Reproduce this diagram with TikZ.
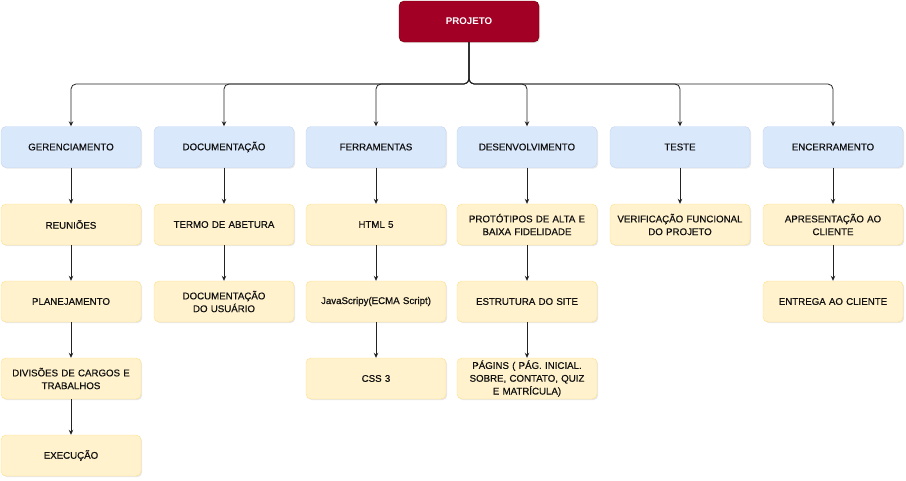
\documentclass[tikz,border=0pt]{standalone}
\usepackage{fontspec}
\setmainfont{Liberation Sans}
\newfontfamily\semibold[FakeBold=0.6]{Liberation Sans}
\usetikzlibrary{arrows.meta,shadows}
\definecolor{rootfill}{HTML}{A20025}
\definecolor{rootline}{HTML}{6F0000}
\definecolor{bluefill}{HTML}{DAE8FC}
\definecolor{blueline}{HTML}{C3D5F2}
\definecolor{yelfill}{HTML}{FFF2CC}
\definecolor{yelline}{HTML}{FFE08A}
\definecolor{edgecol}{HTML}{222222}
\definecolor{txt}{HTML}{111111}
\tikzset{
  box/.style={rounded corners=5pt, minimum width=140pt, minimum height=41pt,
    text width=136pt, align=center, inner sep=0pt, text=txt, font=\semibold\fontsize{9.7}{12.8}\selectfont,
    drop shadow={shadow xshift=1.2pt, shadow yshift=-1.2pt, opacity=0.18}},
  rootbox/.style={box, fill=rootfill, draw=rootline, text=white, font=\fontsize{9.7}{12.8}\selectfont\bfseries},
  catbox/.style={box, fill=bluefill, draw=blueline},
  taskbox/.style={box, fill=yelfill, draw=yelline},
  link/.style={draw=edgecol, line width=0.8pt, -{Stealth[length=5pt,width=4.5pt]}},
  buslink/.style={link, rounded corners=5pt}
}
\begin{document}
\begin{tikzpicture}[x=1pt,y=-1pt]
\useasboundingbox (0,0) rectangle (906,480);
\node[rootbox] (root) at (469,21.5) {PROJETO};
\coordinate (bus) at (469,84);
% level 1
\node[catbox] (ger) at (71,147) {GERENCIAMENTO};
\node[catbox] (doc) at (224,147) {DOCUMENTAÇÃO};
\node[catbox] (fer) at (376,147) {FERRAMENTAS};
\node[catbox] (des) at (527,147) {DESENVOLVIMENTO};
\node[catbox] (tes) at (680,147) {TESTE};
\node[catbox] (enc) at (833,147) {ENCERRAMENTO};
% level 2
\node[taskbox] (reu) at (71,224.5) {REUNIÕES};
\node[taskbox] (ter) at (224,224.5) {TERMO DE ABETURA};
\node[taskbox] (htm) at (376,224.5) {HTML 5};
\node[taskbox] (pro) at (527,224.5) {PROTÓTIPOS DE ALTA E\\BAIXA FIDELIDADE};
\node[taskbox] (ver) at (680,224.5) {VERIFICAÇÃO FUNCIONAL\\DO PROJETO};
\node[taskbox] (apr) at (833,224.5) {APRESENTAÇÃO AO\\CLIENTE};
% level 3
\node[taskbox] (pla) at (71,301.5) {PLANEJAMENTO};
\node[taskbox] (dus) at (224,301.5) {DOCUMENTAÇÃO\\DO USUÁRIO};
\node[taskbox] (jav) at (376,301.5) {JavaScripy(ECMA Script)};
\node[taskbox] (est) at (527,301.5) {ESTRUTURA DO SITE};
\node[taskbox] (ent) at (833,301.5) {ENTREGA AO CLIENTE};
% level 4
\node[taskbox] (div) at (71,378.5) {DIVISÕES DE CARGOS E\\TRABALHOS};
\node[taskbox] (css) at (376,378.5) {CSS 3};
\node[taskbox] (pag) at (527,378.5) {PÁGINS ( PÁG. INICIAL.\\SOBRE, CONTATO, QUIZ\\E MATRÍCULA)};
% level 5
\node[taskbox] (exe) at (71,455.5) {EXECUÇÃO};
% bus connectors
\foreach \n in {ger,doc,fer,des,tes,enc}
  \draw[buslink] (root.south) -- (bus) -| (\n.north);
% vertical connectors
\draw[link] (ger) -- (reu);
\draw[link] (reu) -- (pla);
\draw[link] (pla) -- (div);
\draw[link] (div) -- (exe);
\draw[link] (doc) -- (ter);
\draw[link] (ter) -- (dus);
\draw[link] (fer) -- (htm);
\draw[link] (htm) -- (jav);
\draw[link] (jav) -- (css);
\draw[link] (des) -- (pro);
\draw[link] (pro) -- (est);
\draw[link] (est) -- (pag);
\draw[link] (tes) -- (ver);
\draw[link] (enc) -- (apr);
\draw[link] (apr) -- (ent);
\end{tikzpicture}
\end{document}
